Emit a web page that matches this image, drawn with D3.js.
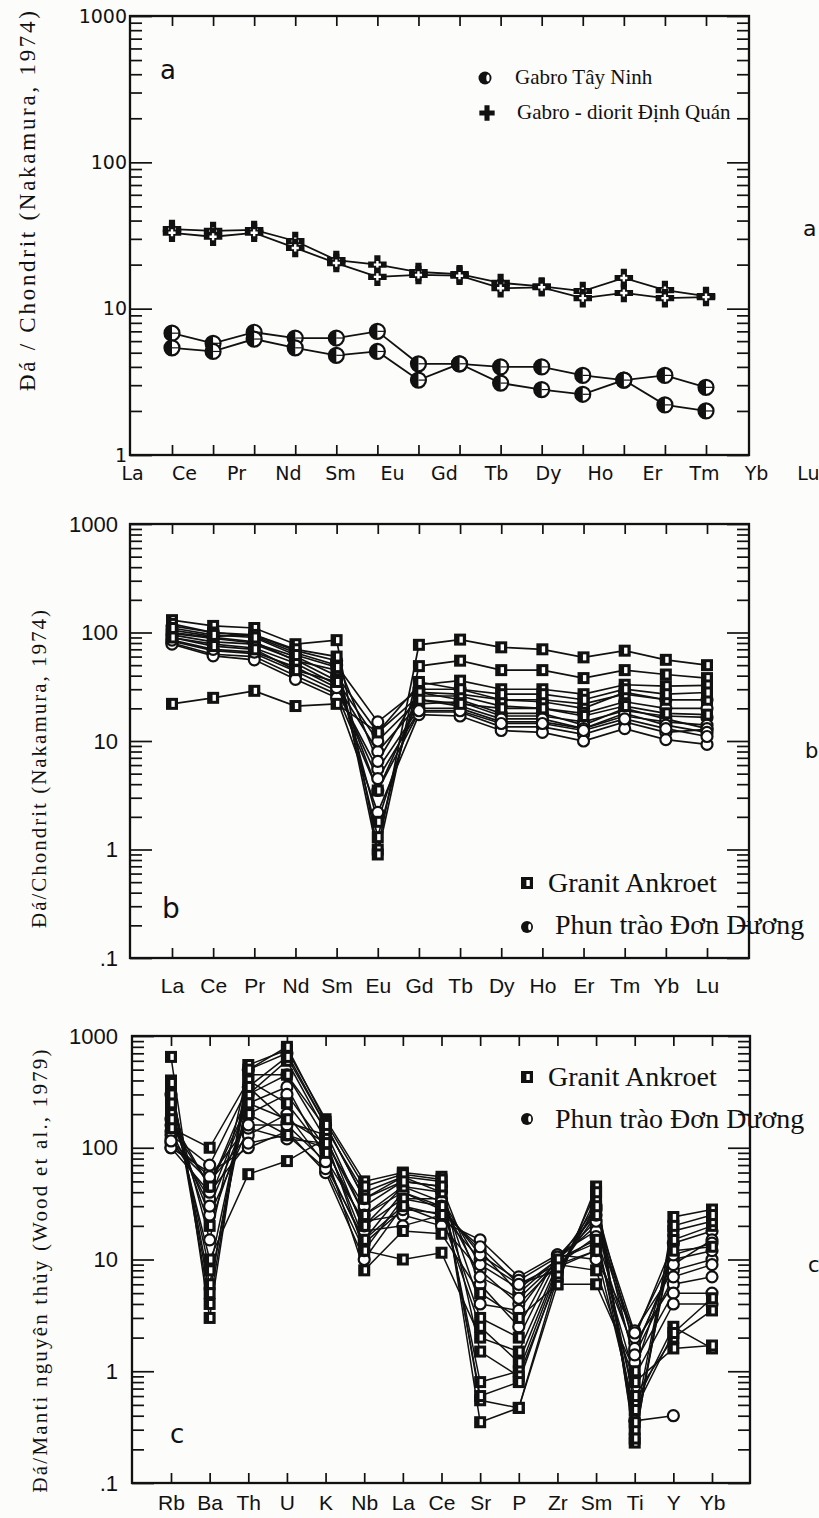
<!DOCTYPE html>
<html><head><meta charset="utf-8">
<script src="https://cdn.jsdelivr.net/npm/d3@7"></script>
<style>html,body{margin:0;padding:0;background:#fcfcfa;}svg{display:block;}
.serif{font-family:"Liberation Serif","DejaVu Serif","Tinos",serif;}
.sans{font-family:"Liberation Sans","Arimo",Arial,sans-serif;}
.goth{font-family:"DejaVu Sans",sans-serif;}
</style>
</head><body>
<script>
// ---------------- DATA ----------------
const reeA = ["La","Ce","Pr","Nd","Sm","Eu","Gd","Tb","Dy","Ho","Er","Tm","Yb","Lu"];
// panel a: values at the 14 tick positions
const gabroTayNinh1 = [6.8,5.8,6.9,6.3,6.3,7.0,4.2,4.2,4.0,4.0,3.5,3.25,3.5,2.9];
const gabroTayNinh2 = [5.4,5.1,6.2,5.4,4.8,5.1,3.25,4.2,3.1,2.8,2.6,3.25,2.2,2.0];
const dinhQuan1 = [35,34,34.5,29,21.5,20,17.8,17.2,15,14.2,13.2,16.2,13.4,12.2];
const dinhQuan2 = [33,31,33,26,20.5,16.5,17,16.8,13.8,14,11.8,12.8,11.8,12];

// panel b: REE / chondrite
const reeB = ["La","Ce","Pr","Nd","Sm","Eu","Gd","Tb","Dy","Ho","Er","Tm","Yb","Lu"];
const ankroetB1 = [130,115,110,78,85,1.0,77,86,73,70,59,68,56,50];
const ankroetB2 = [120,100,95,70,60,0.9,49,55,45,45,38,45,41,38];
const ankroetB3 = [22,25,29,21,22,12,33,36,30,30,27,33,32,32.5];
const ankroetB4 = [100,90,82,55,45,1.8,28,27,24,24,22,27,24,24];
const ankroetB5 = [90,75,70,45,35,3.5,24,22,20,20,17,21,18,17.5];
const ankroetB6 = [110,95,90,62,48,1.3,35,30,27,27,24,30,27,28];
const donDuongB1 = [115,100,92,65,50,15,30,30,24,23,20,28,24,24];
const donDuongB2 = [98,88,80,60,40,12,26,26,21,20,18,23,20,20];
const donDuongB3 = [90,78,72,52,33,8,22,23,17,17,15,19,17,16.5];
const donDuongB4 = [83,68,64,44,29,5.5,20,20,15,15,13,17,15,14];
const donDuongB5 = [80,63,60,40,27,3.5,18.5,18.5,13.5,13.5,11.5,15,12,12.8];
const donDuongB6 = [78,61,56,37,25,2.2,17.5,17,12.5,12,10,13,10.3,9.3];
const donDuongB7 = [105,92,95,68,55,6.5,28,24,18,18,14,20,16,13];
const donDuongB8 = [95,82,78,56,36,10,24,21,16,16,13,18,14,12];
const donDuongB9 = [85,70,66,48,31,4.5,19,19,14.5,14.5,12.5,16,13,11];

// panel c: spider diagram / primitive mantle
const elemC = ["Rb","Ba","Th","U","K","Nb","La","Ce","Sr","P","Zr","Sm","Ti","Y","Yb"];
const ankroetC1 = [650,3,550,750,180,50,60,55,0.35,0.47,6,45,0.23,24,28];
const ankroetC2 = [400,4,450,450,150,40,55,50,0.55,0.47,7,35,0.3,15,20];
const ankroetC3 = [350,6,300,600,140,25,45,40,0.8,1.0,8,25,0.5,2.5,1.6];
const ankroetC4 = [250,10,58,76,120,12,10,11.5,2,1.5,9,8,0.8,1.6,1.7];
const ankroetC5 = [200,20,200,130,100,20,35,30,3,2,10,15,0.6,2,3.5];
const ankroetC6 = [150,100,400,250,90,8,18,17,5,3,6,6,1.0,12,13];
const ankroetC7 = [380,5,500,800,170,45,58,52,1.5,0.9,7,40,0.25,18,22];
const ankroetC8 = [300,8,350,650,160,35,50,45,0.6,0.8,7.5,30,0.35,20,25];
const ankroetC9 = [180,45,250,180,110,15,30,25,2.5,1.2,8.5,12,0.45,2.2,4.5];
const donDuongC1 = [100,60,100,140,60,10,30,22,15,7,11,10,2.3,8,10];
const donDuongC2 = [110,50,130,200,70,15,40,28,12,5,10,20,1.8,6,7];
const donDuongC3 = [120,35,250,350,80,22,25,20,8,4,9,12,1.5,10,12];
const donDuongC4 = [180,25,150,120,110,30,50,45,6,2.5,11,18,0.36,0.4,null];
const donDuongC5 = [130,70,350,170,130,18,20,25,10,6,8,28,1.2,5,5];
const donDuongC6 = [300,15,500,700,160,35,55,40,4,3.5,10,14,0.9,4,4];
const donDuongC7 = [100,40,110,130,65,12,35,35,9,5.5,10,22,2.0,14,18];
const donDuongC8 = [140,30,200,300,100,20,45,33,7,4.5,9.5,30,1.6,9,15];
const donDuongC9 = [160,45,300,450,120,25,40,30,11,6.5,10.5,25,2.2,11,14];
const donDuongC10 = [115,55,160,160,75,14,28,26,13,6,9,16,1.4,7,9];

const legendA = ["Gabro Tây Ninh","Gabro - diorit Định Quán"];
const legendBC = ["Granit Ankroet","Phun trào Đơn Dương"];
const titleA = "Đá / Chondrit (Nakamura, 1974)";
const titleB = "Đá/Chondrit (Nakamura, 1974)";
const titleC = "Đá/Manti nguyên thủy (Wood et al., 1979)";

// ---------------- DRAW ----------------
const svg = d3.select("body").append("svg").attr("width",819).attr("height",1518);
svg.append("rect").attr("width",819).attr("height",1518).attr("fill","#fcfcfa");

function isDecade(v){ const l=Math.log10(v); return Math.abs(l-Math.round(l))<1e-9; }

function frame(P, x, y, o){
  const g = svg.append("g").attr("color","#111");
  const all = y.ticks();
  const majors = all.filter(isDecade);
  const minors = all.filter(v=>!isDecade(v));
  const fmt = d => d<1 ? ".1" : String(d);
  const L = g.append("g").attr("transform",`translate(${P.x0},0)`)
    .call(d3.axisLeft(y).tickValues(majors).tickSize(-o.majLen).tickPadding(o.pad).tickFormat(fmt));
  L.attr("font-family",null).attr("font-size",null);
  L.selectAll("text").attr("class",o.cls).style("font-size",o.fs+"px").attr("fill","#111");
  g.append("g").attr("transform",`translate(${P.x0},0)`)
    .call(d3.axisLeft(y).tickValues(minors).tickSize(-o.minLen).tickFormat(""));
  g.append("g").attr("transform",`translate(${P.x1},0)`)
    .call(d3.axisRight(y).tickValues(majors).tickSize(-o.majLen).tickFormat(""));
  g.append("g").attr("transform",`translate(${P.x1},0)`)
    .call(d3.axisRight(y).tickValues(minors).tickSize(-o.minLen).tickFormat(""));
  g.append("g").attr("transform",`translate(0,${P.y0})`)
    .call(d3.axisTop(x).tickSize(-10).tickFormat(""));
  g.append("g").attr("transform",`translate(0,${P.y1})`)
    .call(d3.axisBottom(x).tickSize(-10).tickFormat(""));
  g.selectAll(".domain").remove();
  g.selectAll(".tick line").attr("stroke","#111").attr("stroke-width",1.7);
  g.append("rect").attr("x",P.x0).attr("y",P.y0).attr("width",P.x1-P.x0).attr("height",P.y1-P.y0)
    .attr("fill","none").attr("stroke","#111").attr("stroke-width",2.3);
}

function xLabels(P, scale, o){
  const g = svg.append("g").attr("transform",`translate(0,${P.y1})`)
    .call(d3.axisBottom(scale).tickSize(0).tickPadding(o.pad));
  g.attr("font-family",null).attr("font-size",null);
  g.select(".domain").remove();
  g.selectAll("text").attr("class",o.cls).style("font-size",o.fs+"px").attr("fill","#111");
}

function yTitle(text, cx, cy, len, fs){
  svg.append("text").attr("transform",`translate(${cx},${cy}) rotate(-90)`)
    .attr("text-anchor","middle").attr("class","serif").style("font-size",fs+"px")
    .attr("textLength",len).attr("lengthAdjust","spacing").attr("fill","#111").text(text);
}

function txt(t,x,y,fs,cls,anchor){
  svg.append("text").attr("x",x).attr("y",y).attr("class",cls).style("font-size",fs+"px")
    .attr("text-anchor",anchor||"start").attr("fill","#111").text(t);
}

function halfCircle(g,cx,cy,r,sw){
  g.append("circle").attr("cx",cx).attr("cy",cy).attr("r",r).attr("fill","#fff").attr("stroke","#111").attr("stroke-width",sw);
  g.append("path").attr("d",`M${cx},${cy-r} A${r},${r} 0 0 0 ${cx},${cy+r} Z`).attr("fill","#111");
  g.append("line").attr("x1",cx).attr("x2",cx+r).attr("y1",cy).attr("y2",cy).attr("stroke","#111").attr("stroke-width",1.2);
}
function openCircle(g,cx,cy,r,sw){
  g.append("circle").attr("cx",cx).attr("cy",cy).attr("r",r).attr("fill","#fff").attr("stroke","#111").attr("stroke-width",sw);
}
function plusMark(g,cx,cy,size,hollow){
  g.append("path").attr("transform",`translate(${cx},${cy})`).attr("d",d3.symbol(d3.symbolCross).size(size)()).attr("fill","#111");
  if(hollow) g.append("path").attr("transform",`translate(${cx},${cy})`).attr("d",d3.symbol(d3.symbolCross).size(size*0.15)()).attr("fill","#fff");
}
function squareMark(g,cx,cy,s){
  g.append("rect").attr("x",cx-s/2).attr("y",cy-s/2).attr("width",s).attr("height",s).attr("fill","#111");
  g.append("rect").attr("x",cx-s*0.05).attr("y",cy-s*0.25).attr("width",s*0.28).attr("height",s*0.5).attr("fill","#fff");
}
function legendCircle(g,cx,cy,r){
  g.append("circle").attr("cx",cx).attr("cy",cy).attr("r",r).attr("fill","#111");
  g.append("ellipse").attr("cx",cx+r*0.45).attr("cy",cy).attr("rx",r*0.25).attr("ry",r*0.55).attr("fill","#fff");
}

function drawSeries(cats, x, y, list, sw){
  const line = d3.line().defined(d=>d.v!=null).x(d=>x(d.c)).y(d=>y(d.v));
  const g = svg.append("g");
  list.forEach(vals=>{
    const pts = vals.map((v,i)=>({c:cats[i],v}));
    g.append("path").attr("d",line(pts)).attr("fill","none").attr("stroke","#111").attr("stroke-width",sw);
  });
  return list.map(vals=>vals.map((v,i)=>({c:cats[i],v}))).flat().filter(d=>d.v!=null);
}

// ===== Panel a =====
{
  const P = {x0:130,x1:749,y0:16,y1:455};
  const x = d3.scalePoint().domain(reeA).range([172,706]);
  const xl = d3.scalePoint().domain(reeA).range([132,808]);
  const y = d3.scaleLog().domain([1,1000]).range([P.y1,P.y0]);
  frame(P,x,y,{majLen:22,minLen:12,pad:3,cls:"goth",fs:19});
  xLabels(P,xl,{pad:12,cls:"goth",fs:19});
  const circ = drawSeries(reeA,x,y,[gabroTayNinh1,gabroTayNinh2],1.8);
  const plus = drawSeries(reeA,x,y,[dinhQuan1,dinhQuan2],1.8);
  const mg = svg.append("g");
  plus.forEach(d=>plusMark(mg,x(d.c),y(d.v),190,true));
  circ.forEach(d=>halfCircle(mg,x(d.c),y(d.v),7.5,2.2));
  // legend
  const lg = svg.append("g");
  legendCircle(lg,485,78,6.5);
  plusMark(lg,487,113,130,false);
  txt(legendA[0],515,84,21,"serif");
  txt(legendA[1],517,119,21,"serif");
  txt("a",160,79,26,"goth");
  txt("a",803,236,22,"goth");
  yTitle(titleA,35,201,380,23);
}

// ===== Panel b =====
{
  const P = {x0:130,x1:749,y0:524,y1:958};
  const x = d3.scalePoint().domain(reeB).range([172,707]);
  const y = d3.scaleLog().domain([0.1,1000]).range([P.y1,P.y0]);
  frame(P,x,y,{majLen:22,minLen:12,pad:12,cls:"sans",fs:22});
  xLabels(P,x,{pad:20,cls:"sans",fs:21});
  const sq = drawSeries(reeB,x,y,[ankroetB1,ankroetB2,ankroetB3,ankroetB4,ankroetB5,ankroetB6],1.7);
  const ci = drawSeries(reeB,x,y,[donDuongB1,donDuongB2,donDuongB3,donDuongB4,donDuongB5,donDuongB6,donDuongB7,donDuongB8,donDuongB9],1.7);
  const mg = svg.append("g");
  ci.forEach(d=>openCircle(mg,x(d.c),y(d.v),5.5,2.2));
  sq.forEach(d=>squareMark(mg,x(d.c),y(d.v),12));
  const lg = svg.append("g");
  squareMark(lg,527,883,12);
  legendCircle(lg,527,927,6);
  txt(legendBC[0],548,892,28,"serif");
  txt(legendBC[1],555,934,28,"serif");
  txt("b",162,918,28,"goth");
  txt("b",805,758,21,"goth");
  yTitle(titleB,46,769,318,21);
}

// ===== Panel c =====
{
  const P = {x0:132,x1:750,y0:1036,y1:1483};
  const x = d3.scalePoint().domain(elemC).range([171,712]);
  const y = d3.scaleLog().domain([0.1,1000]).range([P.y1,P.y0]);
  frame(P,x,y,{majLen:22,minLen:12,pad:14,cls:"sans",fs:22});
  xLabels(P,x,{pad:12,cls:"sans",fs:21});
  const sq = drawSeries(elemC,x,y,[ankroetC1,ankroetC2,ankroetC3,ankroetC4,ankroetC5,ankroetC6,ankroetC7,ankroetC8,ankroetC9],1.5);
  const ci = drawSeries(elemC,x,y,[donDuongC1,donDuongC2,donDuongC3,donDuongC4,donDuongC5,donDuongC6,donDuongC7,donDuongC8,donDuongC9,donDuongC10],1.5);
  const mg = svg.append("g");
  ci.forEach(d=>openCircle(mg,x(d.c),y(d.v),5.5,2.2));
  sq.forEach(d=>squareMark(mg,x(d.c),y(d.v),12));
  const lg = svg.append("g");
  squareMark(lg,527,1077,12);
  legendCircle(lg,527,1119,6);
  txt(legendBC[0],548,1086,28,"serif");
  txt(legendBC[1],555,1128,28,"serif");
  txt("c",170,1443,26,"goth");
  txt("c",808,1272,21,"goth");
  yTitle(titleC,47,1271,443,21);
}
</script>
</body></html>
